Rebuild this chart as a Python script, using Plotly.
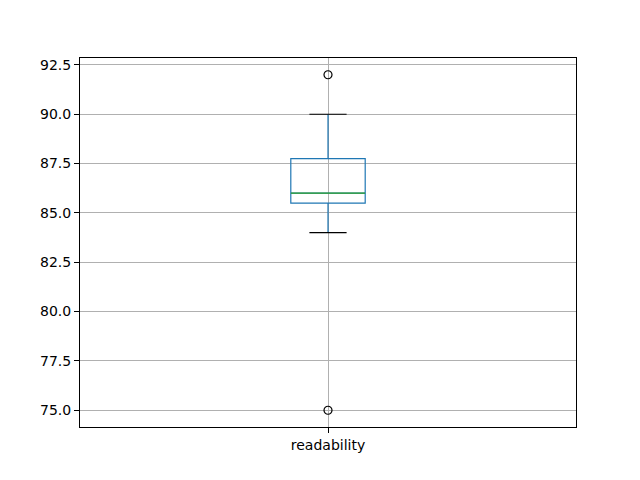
import plotly.graph_objects as go

# box statistics for the single column
column = "readability"
q1 = [85.5]
median = [86.0]
q3 = [87.75]
lower_whisker = [84.0]
upper_whisker = [90.0]
outliers = [92.0, 75.0]
y_ticks = [75.0, 77.5, 80.0, 82.5, 85.0, 87.5, 90.0, 92.5]

pos = 1
box_w = 0.15
cap_half = box_w / 4

fig = go.Figure()

fig.add_trace(go.Box(
    x=[pos], q1=q1, median=median, q3=q3,
    lowerfence=lower_whisker, upperfence=upper_whisker,
    width=box_w, whiskerwidth=0.0,
    fillcolor="rgba(0,0,0,0)",
    line=dict(color="#1f77b4", width=1.2),
    boxpoints=False, showlegend=False, hoverinfo="skip",
))

# black caps at whisker ends
for w in lower_whisker + upper_whisker:
    fig.add_trace(go.Scatter(
        x=[pos - cap_half, pos + cap_half], y=[w, w], mode="lines",
        line=dict(color="black", width=1.2), showlegend=False, hoverinfo="skip",
    ))

# green median line
fig.add_trace(go.Scatter(
    x=[pos - box_w / 2, pos + box_w / 2], y=median * 2, mode="lines",
    line=dict(color="#2ca02c", width=1.2), showlegend=False, hoverinfo="skip",
))

fig.add_trace(go.Scatter(
    x=[pos] * len(outliers), y=outliers, mode="markers",
    marker=dict(symbol="circle-open", size=8, color="black", line=dict(width=1.2)),
    showlegend=False, hoverinfo="skip",
))

axis_style = dict(
    showline=True, linecolor="black", linewidth=1, mirror=True,
    ticks="outside", ticklen=5, tickcolor="black",
    showgrid=True, gridcolor="#b0b0b0", gridwidth=0.8, zeroline=False,
    tickfont=dict(family="DejaVu Sans", size=14, color="black"),
)

fig.update_xaxes(
    range=[0.5, 1.5], tickvals=[pos], ticktext=[column], **axis_style,
)
fig.update_yaxes(
    range=[74.15, 92.85], tickvals=y_ticks,
    ticktext=[f"{t:.1f}" for t in y_ticks], **axis_style,
)

# page body adds an 8px offset, so the figure is sized to compensate
fig.update_layout(
    width=632, height=472,
    margin=dict(l=72, r=64, t=50, b=53),
    paper_bgcolor="white", plot_bgcolor="white",
    font=dict(family="DejaVu Sans", size=14, color="black"),
)

fig.write_html("out.html")
